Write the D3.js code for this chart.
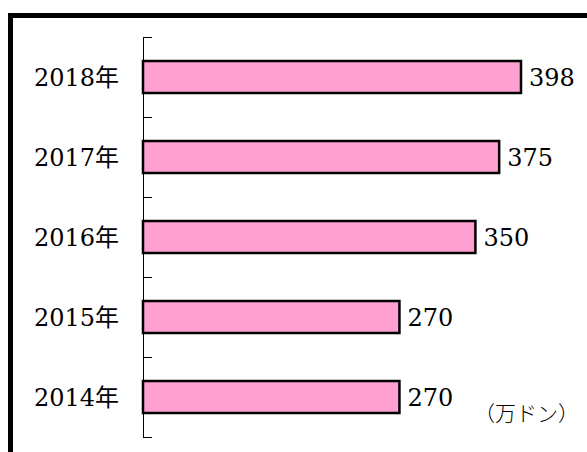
<!DOCTYPE html>
<html>
<head>
<meta charset="utf-8">
<script src="https://cdn.jsdelivr.net/npm/d3@7"></script>
<style>
  body { margin: 0; background: #fff; }
  svg { display: block; }
</style>
</head>
<body>
<div id="chart"></div>
<script>
// data
var years = ["2018年", "2017年", "2016年", "2015年", "2014年"];
var values = [398, 375, 350, 270, 270];
var unitLabel = "（万ドン）";

var width = 587, height = 452;
var serif = "'DejaVu Serif', 'Noto Sans CJK JP', serif";

var svg = d3.select("#chart").append("svg")
  .attr("width", width)
  .attr("height", height);

// thick frame (runs off the right/bottom edge)
svg.append("path")
  .attr("d", "M10.5,460 L10.5,15.5 L600,15.5")
  .attr("fill", "none")
  .attr("stroke", "#000")
  .attr("stroke-width", 5);

var x = d3.scaleLinear().domain([0, 398]).range([143, 521]);
var y = d3.scaleBand().domain(years).range([37, 437]).paddingInner(0.6).paddingOuter(0.3);

// axis line with ticks on category boundaries
var bounds = d3.range(years.length + 1).map(function(i) { return 37 + i * 80; });
svg.append("line")
  .attr("x1", 143.5).attr("x2", 143.5)
  .attr("y1", 37).attr("y2", 438)
  .attr("stroke", "#000").attr("stroke-width", 1);
svg.selectAll(".tk").data(bounds).enter().append("line")
  .attr("class", "tk")
  .attr("x1", 143).attr("x2", 152)
  .attr("y1", function(d) { return d + 0.5; })
  .attr("y2", function(d) { return d + 0.5; })
  .attr("stroke", "#000").attr("stroke-width", 1);

// bars
svg.selectAll(".bar").data(values).enter().append("rect")
  .attr("class", "bar")
  .attr("x", x(0))
  .attr("y", function(d, i) { return y(years[i]); })
  .attr("width", function(d) { return x(d) - x(0); })
  .attr("height", y.bandwidth())
  .attr("fill", "#ffa0d0")
  .attr("stroke", "#000")
  .attr("stroke-width", 2.5);

// value labels
svg.selectAll(".val").data(values).enter().append("text")
  .attr("x", function(d) { return x(d) + 8; })
  .attr("y", function(d, i) { return y(years[i]) + y.bandwidth() / 2; })
  .attr("dy", "0.36em")
  .attr("font-family", serif)
  .attr("font-size", 24)
  .text(function(d) { return d; });

// category labels
svg.selectAll(".cat").data(years).enter().append("text")
  .attr("x", 119)
  .attr("y", function(d) { return y(d) + y.bandwidth() / 2; })
  .attr("dy", "0.36em")
  .attr("text-anchor", "end")
  .attr("font-family", serif)
  .attr("font-size", 24)
  .text(function(d) { return d; });

// unit
svg.append("text")
  .attr("x", 579)
  .attr("y", 421)
  .attr("text-anchor", "end")
  .attr("font-family", serif)
  .attr("font-size", 21)
  .attr("font-weight", 300)
  .text(unitLabel);
</script>
</body>
</html>
